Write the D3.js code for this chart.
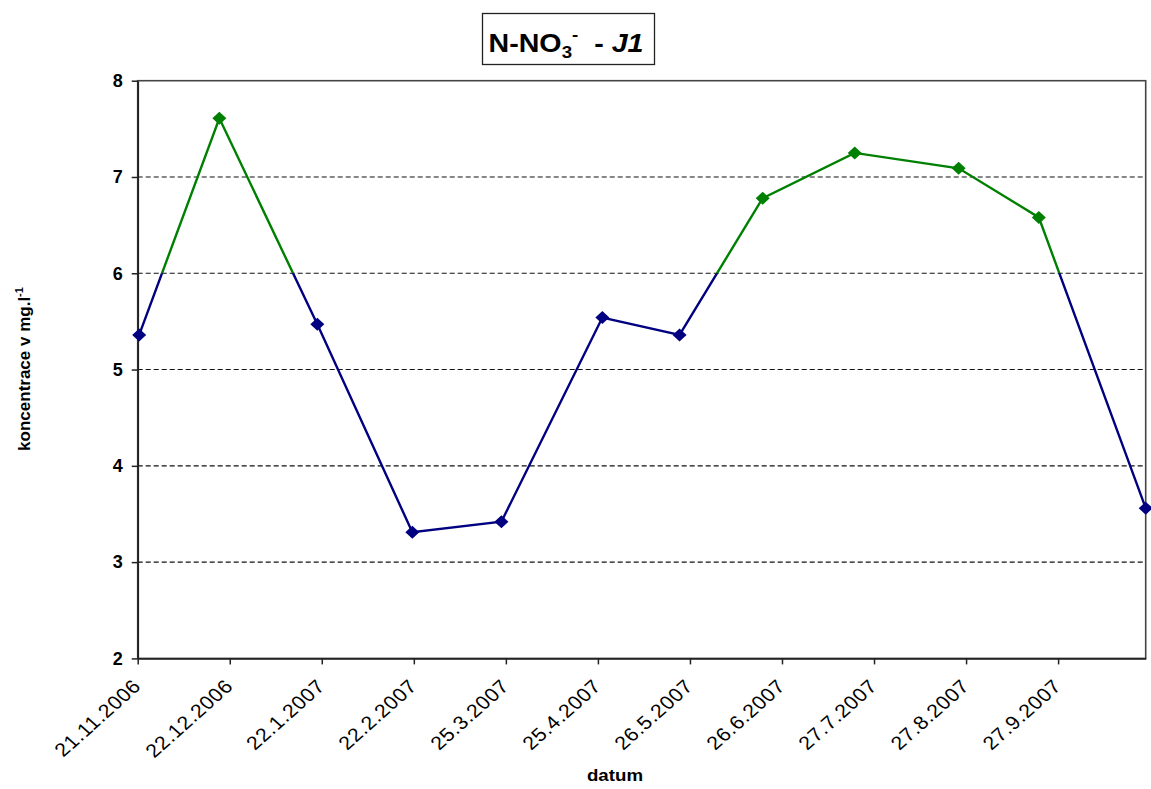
<!DOCTYPE html>
<html>
<head>
<meta charset="utf-8">
<script src="https://cdn.jsdelivr.net/npm/d3@7/dist/d3.min.js"></script>
<style>
  html, body { margin: 0; padding: 0; background: #ffffff; }
  svg { display: block; font-family: "Liberation Sans", Arial, sans-serif; }
</style>
</head>
<body>
<svg id="chart" width="1151" height="789"></svg>
<script>
// Sampling dates (dd.mm.yyyy) and measured nitrate nitrogen, mg/l
const sampleDates = ["21.11.2006", "18.12.2006", "20.1.2007", "21.2.2007", "23.3.2007", "26.4.2007",
                     "22.5.2007", "19.6.2007", "20.7.2007", "24.8.2007", "20.9.2007", "26.10.2007"];
const concentrations = [5.36, 7.61, 5.47, 3.31, 3.42, 5.54, 5.36, 6.78, 7.25, 7.09, 6.58, 3.56];

// Axis ticks
const xTickLabels = ["21.11.2006", "22.12.2006", "22.1.2007", "22.2.2007", "25.3.2007", "25.4.2007",
                     "26.5.2007", "26.6.2007", "27.7.2007", "27.8.2007", "27.9.2007"];
const yTicks = [2, 3, 4, 5, 6, 7, 8];

// Limit value separating the two line colours
const limit = 6;

const parse = d3.utcParse("%d.%m.%Y");
const data = sampleDates.map((d, i) => ({ date: d3.utcHour.offset(parse(d), 12), value: concentrations[i] }));

const svg = d3.select("#chart");
const plot = { left: 137.7, right: 1145.7, top: 80.7, bottom: 658.4 };

const x = d3.scaleUtc()
  .domain([parse("21.11.2006"), d3.utcHour.offset(parse("26.10.2007"), 12)])
  .range([plot.left, plot.right]);
const y = d3.scaleLinear().domain([2, 8]).range([plot.bottom, plot.top]);

const ink = "#222";

// Plot area frame
svg.append("rect")
  .attr("x", plot.left).attr("y", plot.top)
  .attr("width", plot.right - plot.left).attr("height", plot.bottom - plot.top)
  .attr("fill", "none").attr("stroke", "#444").attr("stroke-width", 1.6);

// Dashed horizontal gridlines
svg.append("g")
  .selectAll("line")
  .data(yTicks.filter(v => v > 2 && v < 8))
  .join("line")
  .attr("x1", plot.left).attr("x2", plot.right)
  .attr("y1", d => y(d)).attr("y2", d => y(d))
  .attr("stroke", "#111").attr("stroke-width", 1.1)
  .attr("stroke-dasharray", "5,3");

// Y axis
const yAxis = svg.append("g")
  .attr("transform", `translate(${plot.left},0)`)
  .call(d3.axisLeft(y).tickValues(yTicks).tickSize(6).tickSizeOuter(0).tickPadding(9)
    .tickFormat(d3.format("d")));
yAxis.select(".domain").attr("stroke", ink).attr("stroke-width", 1.8);
yAxis.selectAll(".tick line").attr("stroke", ink).attr("stroke-width", 1.5);
yAxis.selectAll(".tick text")
  .attr("fill", "#000").attr("font-size", 18).attr("font-weight", "bold")
  .attr("font-family", "Liberation Sans, Arial, sans-serif");

// X axis with slanted date labels
const xAxis = svg.append("g")
  .attr("transform", `translate(0,${plot.bottom})`)
  .call(d3.axisBottom(x).tickValues(xTickLabels.map(parse)).tickSize(6).tickSizeOuter(0)
    .tickFormat((d, i) => xTickLabels[i]));
xAxis.select(".domain").attr("stroke", ink).attr("stroke-width", 1.8);
xAxis.selectAll(".tick line").attr("stroke", ink).attr("stroke-width", 1.5);
xAxis.selectAll(".tick text")
  .attr("fill", "#000").attr("font-size", 19)
  .attr("letter-spacing", 0.6)
  .attr("font-family", "Liberation Sans, Arial, sans-serif")
  .attr("text-anchor", "end")
  .attr("dy", 0)
  .attr("y", 0)
  .attr("transform", "translate(4,29) scale(1.12,1) rotate(-45)");

// Clip regions above and below the limit
const defs = svg.append("defs");
defs.append("clipPath").attr("id", "clipAbove")
  .append("rect").attr("x", 0).attr("y", 0).attr("width", 1151).attr("height", y(limit));
defs.append("clipPath").attr("id", "clipBelow")
  .append("rect").attr("x", 0).attr("y", y(limit)).attr("width", 1151).attr("height", 789 - y(limit));

const line = d3.line().x(d => x(d.date)).y(d => y(d.value));

svg.append("path").datum(data)
  .attr("d", line).attr("fill", "none")
  .attr("stroke", "#008000").attr("stroke-width", 2.4)
  .attr("clip-path", "url(#clipAbove)");
svg.append("path").datum(data)
  .attr("d", line).attr("fill", "none")
  .attr("stroke", "#000080").attr("stroke-width", 2.4)
  .attr("clip-path", "url(#clipBelow)");

// Diamond markers
const diamond = "M0,-6.5L7,0L0,6.5L-7,0Z";
svg.append("g")
  .selectAll("path")
  .data(data)
  .join("path")
  .attr("d", diamond)
  .attr("transform", d => `translate(${x(d.date)},${y(d.value)})`)
  .attr("fill", d => d.value >= limit ? "#008000" : "#000080");

// Axis titles
const yTitle = svg.append("text")
  .attr("transform", "translate(30,369) rotate(-90)")
  .attr("text-anchor", "middle")
  .attr("font-size", 17).attr("font-weight", "bold")
  .text("koncentrace v mg.l");
yTitle.append("tspan").attr("dy", -7).attr("font-size", 11).text("-1");

svg.append("text")
  .attr("transform", "translate(615,781) scale(1.1,1)")
  .attr("text-anchor", "middle")
  .attr("font-size", 17).attr("font-weight", "bold")
  .text("datum");

// Title box
svg.append("rect")
  .attr("x", 482.5).attr("y", 13.5).attr("width", 172).attr("height", 51)
  .attr("fill", "#fff").attr("stroke", "#222").attr("stroke-width", 1.3);

const title = svg.append("text")
  .attr("transform", "translate(566,52) scale(1.1,1)")
  .attr("text-anchor", "middle")
  .attr("font-size", 26).attr("font-weight", "bold");
title.append("tspan").text("N-NO");
title.append("tspan").attr("font-size", 17).attr("dy", 6).text("3");
title.append("tspan").attr("font-size", 17).attr("dy", -18).text("-");
title.append("tspan").attr("dy", 12).text("\u00a0 - ");
title.append("tspan").attr("font-style", "italic").text("J1");
</script>
</body>
</html>
